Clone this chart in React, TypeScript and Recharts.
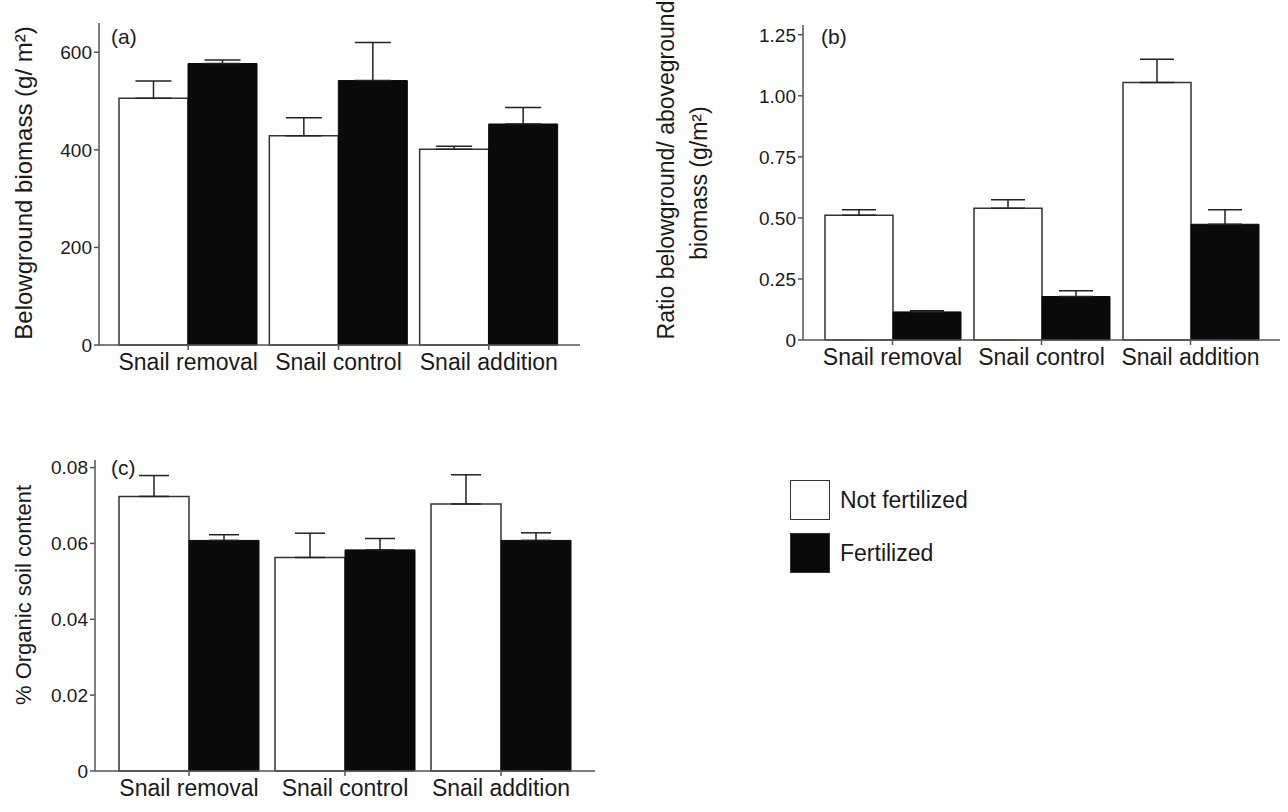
import React from "react";
import { BarChart, Bar, XAxis, YAxis, ErrorBar, Label } from "recharts";

const categories = ["Snail removal", "Snail control", "Snail addition"];

// (a) belowground biomass, g/m2 (upper error only)
const biomassNotFert = [506, 429, 401];
const biomassNotFertErr = [35, 37, 6.5];
const biomassFert = [577, 542, 453];
const biomassFertErr = [7, 78, 34];
const biomassTicks = [0, 200, 400, 600];

// (b) ratio below/aboveground
const ratioNotFert = [0.511, 0.54, 1.055];
const ratioNotFertErr = [0.022, 0.034, 0.095];
const ratioFert = [0.115, 0.178, 0.474];
const ratioFertErr = [0.005, 0.024, 0.059];
const ratioTicks = [0, 0.25, 0.5, 0.75, 1, 1.25];

// (c) organic soil content
const organicNotFert = [0.0724, 0.0563, 0.0704];
const organicNotFertErr = [0.0055, 0.0064, 0.0077];
const organicFert = [0.0608, 0.0583, 0.0608];
const organicFertErr = [0.0015, 0.003, 0.002];
const organicTicks = [0, 0.02, 0.04, 0.06, 0.08];

const legendItems = ["Not fertilized", "Fertilized"];

const FONT = "'Liberation Sans', Arial, sans-serif";
const INK = "#1a1a1a";
const AXIS = "#555";

function rows(nf: number[], nfe: number[], f: number[], fe: number[]) {
  return categories.map((name, i) => ({
    name,
    notFert: nf[i],
    fert: f[i],
    notFertErr: [0, nfe[i]],
    fertErr: [0, fe[i]],
  }));
}

type TitleLine = { text: string; x: number; y: number; size: number };

function titleContent(lines: TitleLine[], letter: { text: string; x: number; y: number }) {
  return () => (
    <g>
      {lines.map((l) => (
        <text
          key={l.text}
          x={l.x}
          y={l.y}
          transform={`rotate(-90 ${l.x} ${l.y})`}
          textAnchor="middle"
          dominantBaseline="central"
          fontSize={l.size}
          fontFamily={FONT}
          fill={INK}
        >
          {l.text}
        </text>
      ))}
      <text x={letter.x} y={letter.y} dominantBaseline="central" fontSize={21} fontFamily={FONT} fill={INK}>
        {letter.text}
      </text>
    </g>
  );
}

interface PanelProps {
  data: ReturnType<typeof rows>;
  width: number;
  height: number;
  margin: { top: number; right: number; left: number; bottom: number };
  domain: [number, number];
  ticks: number[];
  fmt: (v: number) => string;
  padding: { left: number; right: number };
  gap: number;
  capWidth: number;
  content: () => React.ReactElement;
}

function Panel(p: PanelProps) {
  return (
    <BarChart width={p.width} height={p.height} data={p.data} margin={p.margin} barGap={0} barCategoryGap={p.gap}>
      <XAxis
        dataKey="name"
        interval={0}
        padding={p.padding}
        stroke={AXIS}
        strokeWidth={1.5}
        tickSize={5}
        tickMargin={4}
        height={40}
        tick={{ fill: INK, fontSize: 23, fontFamily: FONT }}
      />
      <YAxis
        type="number"
        width={60}
        domain={p.domain}
        ticks={p.ticks}
        tickFormatter={p.fmt}
        stroke={AXIS}
        strokeWidth={1.5}
        tickSize={5}
        tickMargin={2}
        tick={{ fill: INK, fontSize: 19, fontFamily: FONT }}
      >
        <Label content={p.content} />
      </YAxis>
      <Bar dataKey="notFert" fill="#ffffff" stroke="#333" strokeWidth={1.5} isAnimationActive={false}>
        <ErrorBar dataKey="notFertErr" width={p.capWidth} stroke="#222" strokeWidth={1.5} isAnimationActive={false} />
      </Bar>
      <Bar dataKey="fert" fill="#0a0a0a" stroke="#0a0a0a" strokeWidth={1} isAnimationActive={false}>
        <ErrorBar dataKey="fertErr" width={p.capWidth} stroke="#222" strokeWidth={1.5} isAnimationActive={false} />
      </Bar>
    </BarChart>
  );
}

const fmt2 = (v: number) => (v === 0 ? "0" : v.toFixed(2));

export default function App() {
  return (
    <div style={{ position: "absolute", left: 0, top: 0, width: 1288, height: 812, background: "#fff", fontFamily: FONT }}>
      <div style={{ position: "absolute", left: 0, top: 0 }}>
        <Panel
          data={rows(biomassNotFert, biomassNotFertErr, biomassFert, biomassFertErr)}
          width={600}
          height={400}
          margin={{ top: 23, right: 20, left: 39, bottom: 15 }}
          domain={[0, 660]}
          ticks={biomassTicks}
          fmt={(v) => String(v)}
          padding={{ left: 14, right: 16 }}
          gap={6}
          capWidth={18}
          content={titleContent(
            [{ text: "Belowground biomass (g/ m²)", x: 23, y: 183, size: 24 }],
            { text: "(a)", x: 111, y: 36 }
          )}
        />
      </div>
      <div style={{ position: "absolute", left: 640, top: 0 }}>
        <Panel
          data={rows(ratioNotFert, ratioNotFertErr, ratioFert, ratioFertErr)}
          width={648}
          height={400}
          margin={{ top: 25, right: 8, left: 103, bottom: 20 }}
          domain={[0, 1.29]}
          ticks={ratioTicks}
          fmt={fmt2}
          padding={{ left: 15, right: 15 }}
          gap={7}
          capWidth={17}
          content={titleContent(
            [
              { text: "Ratio belowground/ aboveground", x: 26, y: 170, size: 23 },
              { text: "biomass (g/m²)", x: 59, y: 183, size: 23 },
            ],
            { text: "(b)", x: 181, y: 36 }
          )}
        />
      </div>
      <div style={{ position: "absolute", left: 0, top: 440 }}>
        <Panel
          data={rows(organicNotFert, organicNotFertErr, organicFert, organicFertErr)}
          width={600}
          height={372}
          margin={{ top: 20, right: 5, left: 35, bottom: 1 }}
          domain={[0, 0.082]}
          ticks={organicTicks}
          fmt={fmt2}
          padding={{ left: 16, right: 16 }}
          gap={8}
          capWidth={15}
          content={titleContent(
            [{ text: "% Organic soil content", x: 23, y: 155, size: 22 }],
            { text: "(c)", x: 111, y: 27 }
          )}
        />
      </div>
      {legendItems.map((t, i) => (
        <div key={t} style={{ position: "absolute", left: 790, top: 480 + i * 53, display: "flex", alignItems: "center" }}>
          <div
            style={{
              width: 38,
              height: 38,
              border: "1.5px solid #333",
              background: i === 0 ? "#fff" : "#0a0a0a",
            }}
          />
          <span style={{ marginLeft: 10, fontSize: 23, color: INK }}>{t}</span>
        </div>
      ))}
    </div>
  );
}
